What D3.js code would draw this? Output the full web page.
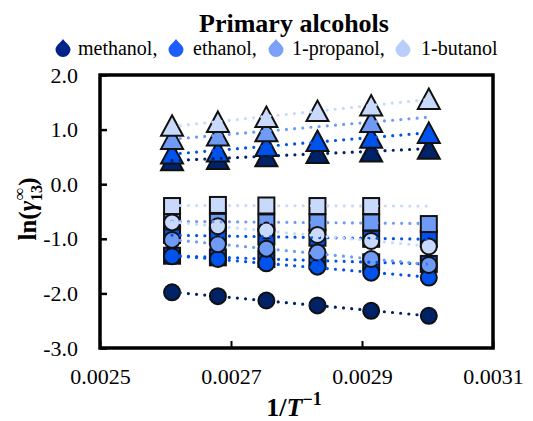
<!DOCTYPE html>
<html>
<head>
<meta charset="utf-8">
<script src="https://cdn.jsdelivr.net/npm/d3@7"></script>
<style>
  html, body { margin: 0; padding: 0; background: #fff; }
  svg { display: block; }
</style>
</head>
<body>
<svg id="chart" width="533" height="421"></svg>
<script>
const SERIF = "Liberation Serif";

// Inverse temperature, 1/T (K^-1): 383.15 K down to 333.15 K
const invT = [0.002610, 0.002680, 0.002754, 0.002832, 0.002914, 0.003002];

const alcohols = ["methanol", "ethanol", "1-propanol", "1-butanol"];
const markerColors = ["#002266", "#0052ec", "#6f9bf5", "#c8d9fb"];
const legendColors = ["#00238a", "#1f5cff", "#7aa0f7", "#b8cdfb"];

// ln(gamma13 inf) – triangle series
const triMethanol = [0.44, 0.46, 0.51, 0.57, 0.60, 0.65];
const triEthanol  = [0.56, 0.60, 0.70, 0.79, 0.85, 0.94];
const triPropanol = [0.83, 0.89, 0.97, null, 1.14, null];
const triButanol  = [1.07, 1.14, 1.23, 1.34, 1.44, 1.56];

// square series
const sqEthanolLow = [-1.31, -1.34, -1.37, -1.40, -1.43, -1.46];
const sqEthanol    = [-0.93, -0.95, -0.96, -0.98, -1.00, -1.00];
const sqPropanol   = [-0.68, -0.69, -0.70, -0.70, -0.70, -0.73];
const sqButanol    = [-0.40, -0.38, -0.39, -0.40, -0.40, null];

// circle series
const ciMethanol = [-1.98, -2.05, -2.13, -2.22, -2.32, -2.41];
const ciEthanol  = [-1.32, -1.37, -1.45, -1.51, -1.62, -1.71];
const ciPropanol = [-1.02, -1.10, -1.18, -1.25, -1.37, -1.48];
const ciButanol  = [-0.70, -0.77, -0.85, -0.93, -1.04, -1.14];

const xTicks = [0.0025, 0.0027, 0.0029, 0.0031];
const yTicks = [-3, -2, -1, 0, 1, 2];
const xTickLabels = ["0.0025", "0.0027", "0.0029", "0.0031"];
const yTickLabels = ["-3.0", "-2.0", "-1.0", "0.0", "1.0", "2.0"];

const series = [
  { shape: "square",   alc: 1, values: sqEthanolLow },
  { shape: "square",   alc: 1, values: sqEthanol },
  { shape: "square",   alc: 2, values: sqPropanol },
  { shape: "square",   alc: 3, values: sqButanol },
  { shape: "circle",   alc: 0, values: ciMethanol },
  { shape: "circle",   alc: 1, values: ciEthanol },
  { shape: "circle",   alc: 2, values: ciPropanol },
  { shape: "circle",   alc: 3, values: ciButanol },
  { shape: "triangle", alc: 0, values: triMethanol },
  { shape: "triangle", alc: 1, values: triEthanol },
  { shape: "triangle", alc: 2, values: triPropanol },
  { shape: "triangle", alc: 3, values: triButanol },
];

const svg = d3.select("#chart");
const plot = { left: 100, right: 493, top: 75, bottom: 348 };

const x = d3.scaleLinear().domain([0.0025, 0.0031]).range([plot.left, plot.right]);
const y = d3.scaleLinear().domain([-3, 2]).range([plot.bottom, plot.top]);

// Title and legend
svg.append("text")
  .attr("x", 294).attr("y", 32)
  .attr("text-anchor", "middle")
  .attr("font-family", SERIF)
  .attr("font-size", 26).attr("font-weight", "bold")
  .text("Primary alcohols");

const dropPath = "M0,-8.5 C2,-5 7.5,-2 7.5,2 A7.5,7.5 0 0 1 -7.5,2 C-7.5,-2 -2,-5 0,-8.5 Z";
const legendItems = [
  { icon: 63, text: 78 },
  { icon: 176, text: 193 },
  { icon: 276, text: 292 },
  { icon: 403, text: 421 },
];
legendItems.forEach((d, i) => {
  svg.append("path").attr("d", dropPath)
    .attr("transform", `translate(${d.icon},47.5)`)
    .attr("fill", legendColors[i]);
  svg.append("text").attr("x", d.text).attr("y", 55)
    .attr("font-family", SERIF)
    .attr("font-size", 20)
    .text(alcohols[i] + (i < alcohols.length - 1 ? "," : ""));
});

// Axes
const gx = svg.append("g").attr("transform", `translate(0,${plot.bottom})`)
  .call(d3.axisBottom(x).tickValues(xTicks).tickFormat((d, i) => xTickLabels[i])
    .tickSizeInner(-7).tickSizeOuter(0).tickPadding(20));
gx.select(".domain").remove();
gx.selectAll(".tick line").attr("stroke", "#000").attr("stroke-width", 2);
gx.selectAll(".tick text").attr("font-size", 22).attr("font-family", SERIF).attr("fill", "#000");

const gy = svg.append("g").attr("transform", `translate(${plot.left},0)`)
  .call(d3.axisLeft(y).tickValues(yTicks).tickFormat((d, i) => yTickLabels[i])
    .tickSizeInner(-7).tickSizeOuter(0).tickPadding(22));
gy.select(".domain").remove();
gy.selectAll(".tick line").attr("stroke", "#000").attr("stroke-width", 2.5);
gy.selectAll(".tick text").attr("font-size", 22).attr("font-family", SERIF).attr("fill", "#000");

// Frame
svg.append("rect")
  .attr("x", plot.left).attr("y", plot.top)
  .attr("width", plot.right - plot.left).attr("height", plot.bottom - plot.top)
  .attr("fill", "none").attr("stroke", "#000").attr("stroke-width", 3.5);

// Markers
const mg = svg.append("g");
const triPath = "M0,-10.5 L11,10 L-11,10 Z";
series.forEach(s => {
  const pts = invT.map((t, i) => ({ t, v: s.values[i] })).filter(p => p.v !== null);
  const fill = markerColors[s.alc];
  pts.forEach(p => {
    const cx = x(p.t), cy = y(p.v);
    if (s.shape === "square") {
      mg.append("rect").attr("x", cx - 8).attr("y", cy - 8).attr("width", 16).attr("height", 16)
        .attr("fill", fill).attr("stroke", "#111").attr("stroke-width", 2);
    } else if (s.shape === "circle") {
      mg.append("circle").attr("cx", cx).attr("cy", cy).attr("r", 8)
        .attr("fill", fill).attr("stroke", "#111").attr("stroke-width", 2);
    } else {
      mg.append("path").attr("d", triPath).attr("transform", `translate(${cx},${cy})`)
        .attr("fill", fill).attr("stroke", "#111").attr("stroke-width", 2).attr("stroke-linejoin", "miter");
    }
  });
});

// Linear trendlines (least squares), dotted
const lg = svg.append("g");
series.forEach(s => {
  const pts = invT.map((t, i) => [t, s.values[i]]).filter(p => p[1] !== null);
  const mx = d3.mean(pts, p => p[0]), my = d3.mean(pts, p => p[1]);
  const slope = d3.sum(pts, p => (p[0] - mx) * (p[1] - my)) / d3.sum(pts, p => (p[0] - mx) ** 2);
  const icpt = my - slope * mx;
  const x0 = invT[0], x1 = invT[invT.length - 1];
  lg.append("line")
    .attr("x1", x(x0)).attr("y1", y(icpt + slope * x0))
    .attr("x2", x(x1)).attr("y2", y(icpt + slope * x1))
    .attr("stroke", markerColors[s.alc])
    .attr("stroke-width", 3.2).attr("stroke-linecap", "round")
    .attr("stroke-dasharray", "0 8.2");
});

// Axis titles
const yl = svg.append("text")
  .attr("transform", "translate(36,209) rotate(-90)")
  .attr("text-anchor", "middle")
  .attr("font-family", SERIF)
  .attr("font-size", 25).attr("font-weight", "bold");
yl.append("tspan").text("ln(");
yl.append("tspan").attr("font-style", "italic").text("γ");
yl.append("tspan").attr("font-size", 16).attr("dy", 6).text("13");
yl.append("tspan").attr("font-size", 17).attr("dx", -15).attr("dy", -17).text("∞");
yl.append("tspan").attr("dx", 2).attr("dy", 11).text(")");

const xl = svg.append("text")
  .attr("x", 294).attr("y", 416)
  .attr("text-anchor", "middle")
  .attr("font-family", SERIF)
  .attr("font-size", 26).attr("font-weight", "bold");
xl.append("tspan").text("1/");
xl.append("tspan").attr("font-style", "italic").text("T");
xl.append("tspan").attr("font-size", 18).attr("dy", -11).text("−1");
</script>
</body>
</html>
